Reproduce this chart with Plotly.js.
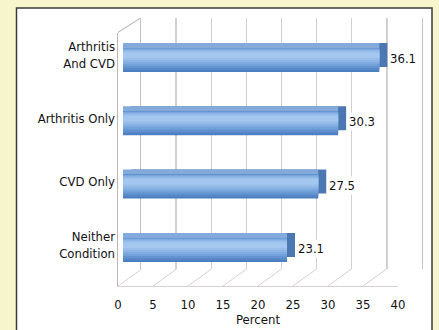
<!DOCTYPE html>
<html>
<head>
<meta charset="utf-8">
<script src="https://cdn.plot.ly/plotly-3.0.1.min.js"></script>
<style>html,body{margin:0;padding:0;background:#F7F5CC;}#chart{width:439px;height:330px;}</style>
</head>
<body>
<div id="chart"></div>
<script>
// ---- data ----
const categories = ["Neither<br>Condition", "CVD Only", "Arthritis Only", "Arthritis<br>And CVD"];
const values = [23.1, 27.5, 30.3, 36.1];
const tickValues = [0, 5, 10, 15, 20, 25, 30, 35, 40];
const tickLabels = ["0", "5", "10", "15", "20", "25", "30", "35", "40"];
const xTitle = "Percent";

// ---- layout helpers (pixels -> paper) ----
const W = 439, H = 330;
const fx = p => p / W;
const fy = p => 1 - p / H;
const FONT = "'Liberation Sans Narrow', 'Arial Narrow', 'DejaVu Sans Condensed', sans-serif";
const TXT = '#111111';
const BAND = 63.3;          // px per category
const barTopC = 60;         // px centre of top category
const DEPTH_X = 23.5, DEPTH_Y = 17;  // wall depth
const BX = 8, BY = 5;       // bar depth
const xmax = tickValues[tickValues.length - 1];

const yTop = barTopC - BAND / 2, yBot = barTopC + 3 * BAND + BAND / 2;
const barX0 = 123, barX1 = 123 + 7.1 * xmax;

function catAxis(domainTop, domainBot, extra) {
  return Object.assign({
    type: 'category', categoryarray: categories, categoryorder: 'array',
    range: [-0.5, categories.length - 0.5],
    domain: [fy(domainBot), fy(domainTop)],
    showgrid: false, zeroline: false, showline: false, showticklabels: false,
    ticks: '', automargin: false, fixedrange: true
  }, extra || {});
}
function valAxis(x0, x1, extra) {
  return Object.assign({
    range: [0, xmax], domain: [fx(x0), fx(x1)],
    showgrid: false, zeroline: false, showline: false, showticklabels: false,
    ticks: '', automargin: false, fixedrange: true
  }, extra || {});
}
function layer(lo, hi, color, xa, ya) {
  return {
    type: 'bar', orientation: 'h', x: values, y: categories,
    xaxis: xa, yaxis: ya,
    width: (hi - lo) / BAND, offset: lo / BAND,
    marker: { color: color, line: { width: 0 } },
    hoverinfo: 'skip', showlegend: false
  };
}
function ghost(xa, ya) {
  return { type: 'scatter', mode: 'markers', x: values, y: categories, xaxis: xa, yaxis: ya,
           marker: { opacity: 0 }, hoverinfo: 'skip', showlegend: false };
}

// front-face shading bands (px from bar centre, upward positive)
const frontBands = [
  [-12, 12, '#4A7FC0'],
  [-10, 12, '#5789C8'],
  [-8, 12, '#6495D1'],
  [-6, 11.5, '#72A0D9'],
  [-4, 11, '#80ABE0'],
  [-2, 10, '#8DB5E6'],
  [0, 9, '#99BEEA'],
  [2, 7.5, '#A4C7EF']
];

const traces = [
  ghost('x', 'y'),                                   // back wall
  layer(-12, 12, '#4B77B2', 'x2', 'y2'),             // right face
  layer(-12, 12, '#84AADC', 'x3', 'y3')              // top face
].concat(frontBands.map(b => layer(b[0], b[1], b[2], 'x4', 'y4')))
 .concat([ghost('x5', 'y5')]);                       // front floor / tick axis

const shapes = [
  { type: 'rect', xref: 'paper', yref: 'paper', x0: fx(16.5), x1: fx(432), y0: fy(345), y1: fy(8),
    line: { color: '#3a3a3a', width: 1.5 }, fillcolor: '#FFFFFF', layer: 'below' },
  // left wall top slant
  { type: 'line', xref: 'x5', xsizemode: 'pixel', xanchor: tickValues[0], x0: -1, x1: DEPTH_X - 1,
    yref: 'paper', y0: fy(33), y1: fy(18), line: { color: '#C2BBBB', width: 1.2 }, layer: 'below' }
].concat(tickValues.map(v => ({
  type: 'line', xref: 'x5', xsizemode: 'pixel', xanchor: v, x0: 0, x1: DEPTH_X,
  yref: 'paper', y0: fy(286), y1: fy(286 - DEPTH_Y),
  line: { color: '#D6D0D0', width: 1 }, layer: 'below'
})));

const annotations = values.map((v, i) => ({
  x: v, y: categories[i], xref: 'x2', yref: 'y4', xanchor: 'left', yanchor: 'middle',
  text: v.toFixed(1), showarrow: false, bgcolor: '#FFFFFF', xshift: 1, yshift: 1.5,
  font: { family: FONT, size: 13, color: TXT }
}));

const layout = {
  width: W, height: H,
  margin: { l: 0, r: 0, t: 0, b: 0, pad: 0 },
  paper_bgcolor: '#F7F5CC', plot_bgcolor: 'rgba(0,0,0,0)',
  barmode: 'overlay', showlegend: false,
  font: { family: FONT, size: 13, color: TXT },
  // back wall
  xaxis: valAxis(141, 422, { showgrid: true, gridcolor: '#D4CECE', gridwidth: 1.4,
         tickvals: tickValues, anchor: 'y' }),
  yaxis: catAxis(18, 269, { anchor: 'x', showline: true, mirror: true, linecolor: '#C8C1C1', linewidth: 1.4 }),
  // right face
  xaxis2: valAxis(barX0 + BX, barX1 + BX, { anchor: 'y2' }),
  yaxis2: catAxis(yTop - BY, yBot - BY, { anchor: 'x2' }),
  // top face + category labels
  xaxis3: valAxis(barX0, barX1, { anchor: 'y3' }),
  yaxis3: catAxis(yTop - BY, yBot - BY, { anchor: 'x3', showticklabels: true, ticklabelstandoff: 7,
          tickfont: { family: FONT, size: 13, color: TXT } }),
  // front face
  xaxis4: valAxis(barX0, barX1, { anchor: 'y4' }),
  yaxis4: catAxis(yTop, yBot, { anchor: 'x4' }),
  // front floor, tick labels, axis title
  xaxis5: valAxis(118, 398, { anchor: 'y5', showline: true, linecolor: '#D6D0D0', linewidth: 1,
          showticklabels: true, tickvals: tickValues, ticktext: tickLabels, ticklabelstandoff: 6,
          tickfont: { family: FONT, size: 13, color: TXT },
          title: { text: xTitle, standoff: 4, font: { family: FONT, size: 13, color: TXT } } }),
  yaxis5: catAxis(33, 286, { anchor: 'x5', showline: true, linecolor: '#BDB6B6', linewidth: 1.2 }),
  shapes: shapes,
  annotations: annotations
};

Plotly.newPlot('chart', traces, layout, { staticPlot: true, displayModeBar: false });
</script>
</body>
</html>
